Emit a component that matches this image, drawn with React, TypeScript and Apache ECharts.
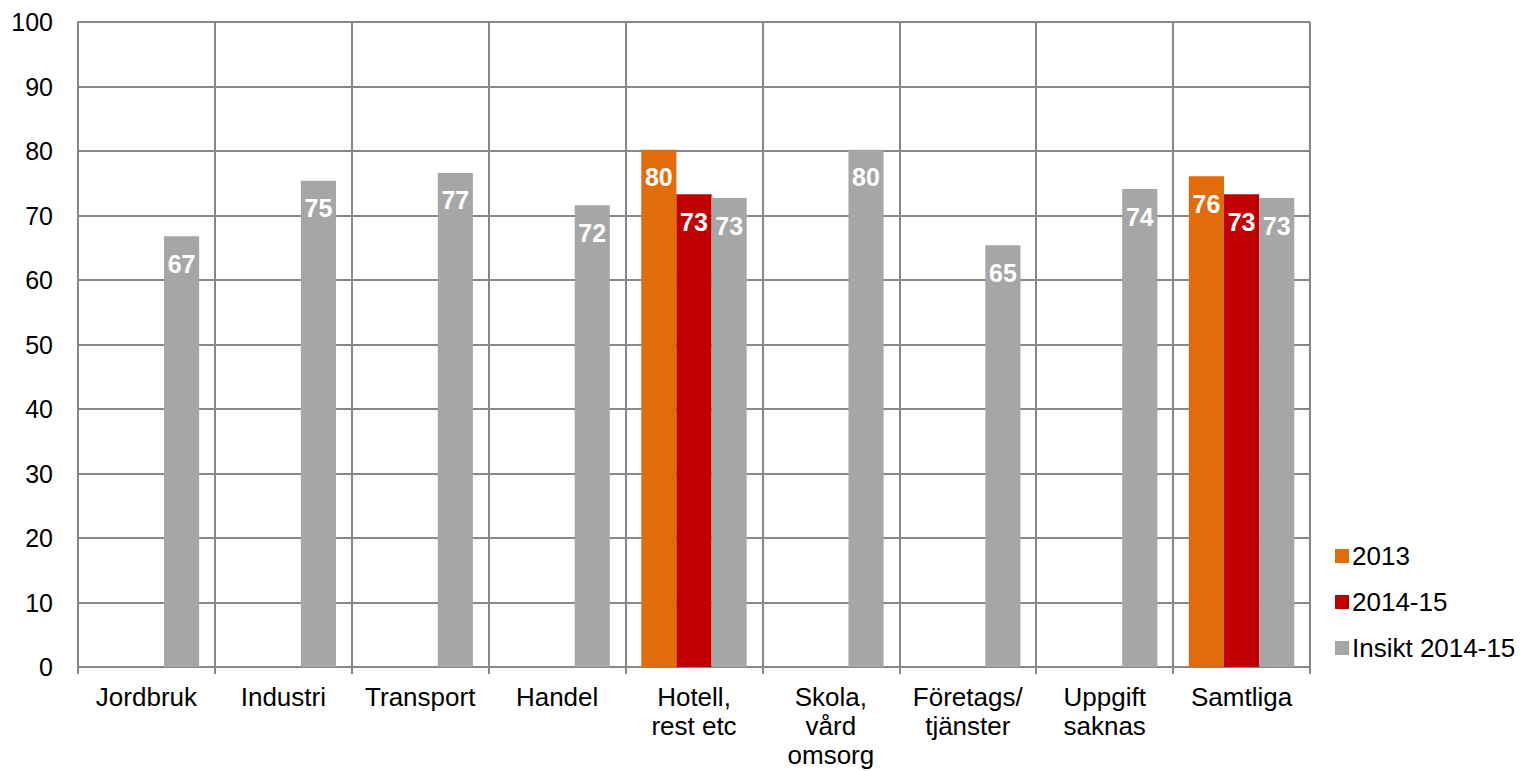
import React, { useEffect, useRef } from "react";
import * as echarts from "echarts";

const categories = ["Jordbruk", "Industri", "Transport", "Handel", "Hotell,\nrest etc", "Skola,\nvård\nomsorg", "Företags/\ntjänster", "Uppgift\nsaknas", "Samtliga"];
const s2013 = [null, null, null, null, 80.2, null, null, null, 76.1];
const s2014 = [null, null, null, null, 73.3, null, null, null, 73.3];
const sInsikt = [66.8, 75.4, 76.6, 71.6, 72.7, 80.2, 65.4, 74.1, 72.7];

export default function App() {
  const ref = useRef<HTMLDivElement>(null);
  useEffect(() => {
    const chart = echarts.init(ref.current!, null, { renderer: "svg" });
    const label = {
      show: true,
      position: "insideTop",
      distance: 15,
      color: "#fff",
      fontWeight: "bold",
      fontSize: 25,
      fontFamily: "Arial, Liberation Sans, sans-serif",
      formatter: (p: any) => (p.value == null ? "" : String(Math.round(p.value))),
    };
    const mk = (name: string, data: any[], color: string) => ({
      name,
      type: "bar",
      data,
      barGap: "0%",
      barCategoryGap: "23%",
      itemStyle: { color },
      label,
    });
    chart.setOption({
      animation: false,
      textStyle: { fontFamily: "Arial, Liberation Sans, sans-serif" },
      grid: { left: 78, right: 212, top: 22, bottom: 104 },
      legend: {
        orient: "vertical",
        left: 1330,
        top: 538,
        itemWidth: 14,
        itemHeight: 14,
        itemGap: 20,
        icon: "rect",
        textStyle: { fontSize: 26, color: "#000", padding: [0, 0, 0, -2] },
        data: ["2013", "2014-15", "Insikt 2014-15"],
      },
      xAxis: {
        type: "category",
        data: categories,
        axisLine: { lineStyle: { color: "#888", width: 2 } },
        axisTick: { show: true, length: 7, lineStyle: { color: "#888", width: 2 } },
        splitLine: { show: true, lineStyle: { color: "#888", width: 2 } },
        axisLabel: { fontSize: 26, color: "#000", margin: 15, lineHeight: 29, interval: 0 },
      },
      yAxis: {
        type: "value",
        min: 0,
        max: 100,
        interval: 10,
        axisLine: { show: true, lineStyle: { color: "#888", width: 2 } },
        axisTick: { show: false },
        splitLine: { show: true, lineStyle: { color: "#888", width: 2 } },
        axisLabel: { fontSize: 25, color: "#000", margin: 25 },
      },
      series: [
        mk("2013", s2013, "#E36C0A"),
        mk("2014-15", s2014, "#C00000"),
        mk("Insikt 2014-15", sInsikt, "#A6A6A6"),
      ],
    });
    return () => chart.dispose();
  }, []);
  return <div ref={ref} style={{ width: 1522, height: 771, position: "absolute", left: 0, top: 0 }} />;
}
